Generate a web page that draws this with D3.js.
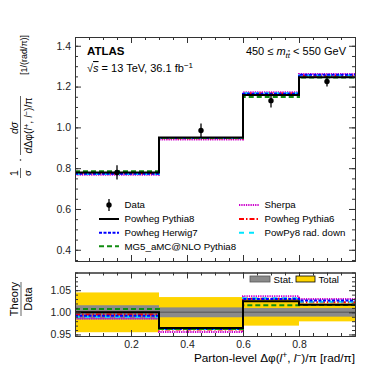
<!DOCTYPE html>
<html>
<head>
<meta charset="utf-8">
<script src="https://cdn.jsdelivr.net/npm/d3@7"></script>
<style>
  body { margin: 0; background: #fff; }
  svg { display: block; font-family: "Liberation Sans", Arial, Helvetica, sans-serif; }
  .axis path, .axis line { stroke: #333; }
  .axis text { font-size: 10.5px; fill: #222; font-family: "Liberation Sans", Arial, sans-serif; }
</style>
</head>
<body>
<svg id="chart" width="374" height="374"></svg>
<script>
// bin edges of parton-level delta phi / pi
var binEdges = [0, 0.3, 0.6, 0.8, 1.0];

// unfolded data, normalised cross-section and uncertainties
var dataValues = [0.779, 0.985, 1.131, 1.225];
var dataTotalErr = [0.035, 0.034, 0.034, 0.025];
var dataStatErr = [0.0125, 0.011, 0.011, 0.012];

// theory predictions
var powhegPythia8 = [0.779, 0.950, 1.159, 1.246];
var powhegHerwig7 = [0.773, 0.948, 1.165, 1.258];
var mg5Pythia8 = [0.785, 0.948, 1.149, 1.245];
var sherpa = [0.768, 0.941, 1.172, 1.262];
var powhegPythia6 = [0.775, 0.947, 1.166, 1.253];
var powPy8RadDown = [0.771, 0.948, 1.167, 1.254];

var yTicks = [0.4, 0.6, 0.8, 1.0, 1.2, 1.4];
var ratioTicks = [0.95, 1.00, 1.05];
var xTicks = [0.2, 0.4, 0.6, 0.8];

var models = [
    { name: "Sherpa", values: sherpa, color: "#cc00cc", dash: "1.3,1", col: 1, row: 0 },
    { name: "Powheg Pythia6", values: powhegPythia6, color: "#ff0000", dash: "5,2,1.5,2", col: 1, row: 1 },
    { name: "PowPy8 rad. down", values: powPy8RadDown, color: "#00e5ff", dash: "5,5", col: 1, row: 2 },
    { name: "Powheg Herwig7", values: powhegHerwig7, color: "#0000ff", dash: "3,1.5", col: 0, row: 2 },
    { name: "MG5_aMC@NLO Pythia8", values: mg5Pythia8, color: "#118c11", dash: "5,3", col: 0, row: 3 },
    { name: "Powheg Pythia8", values: powhegPythia8, color: "#000000", dash: null, col: 0, row: 1 }
];

var svg = d3.select('#chart');

var x = d3.scaleLinear().domain([0, 1]).range([75, 355]);
var y = d3.scaleLinear().domain([0.345, 1.443]).range([261, 37]);
var yr = d3.scaleLinear().domain([0.9465, 1.09]).range([336, 272.5]);

svg.append("defs").append("clipPath").attr("id", "clipRatio")
    .append("rect").attr("x", 75).attr("y", 272.5).attr("width", 280).attr("height", 63.5);

function stepPoints(vals, scaleY) {
    var pts = vals.map(function (v, i) { return [x(binEdges[i]), scaleY(v)]; });
    pts.push([x(binEdges[binEdges.length - 1]), scaleY(vals[vals.length - 1])]);
    return pts;
}
var stepLine = d3.line().curve(d3.curveStepAfter);

// ---------- top panel ----------
var topPanel = svg.append("g").attr("id", "top-panel");

models.forEach(function (m) {
    topPanel.append("path")
        .attr("d", stepLine(stepPoints(m.values, y)))
        .attr("fill", "none")
        .attr("stroke", m.color)
        .attr("stroke-width", 2)
        .attr("stroke-dasharray", m.dash);
});

var pts = topPanel.selectAll(".data-point")
    .data(dataValues)
    .enter().append("g")
    .attr("class", "data-point");
pts.append("line")
    .attr("x1", function (d, i) { return x((binEdges[i] + binEdges[i + 1]) / 2); })
    .attr("x2", function (d, i) { return x((binEdges[i] + binEdges[i + 1]) / 2); })
    .attr("y1", function (d, i) { return y(d + dataTotalErr[i]); })
    .attr("y2", function (d, i) { return y(d - dataTotalErr[i]); })
    .attr("stroke", "#000").attr("stroke-width", 1.3);
pts.append("circle")
    .attr("cx", function (d, i) { return x((binEdges[i] + binEdges[i + 1]) / 2); })
    .attr("cy", function (d) { return y(d); })
    .attr("r", 2.7)
    .attr("fill", "#000");

function minorTicks(lo, hi, step) {
    var out = [];
    for (var v = lo; v <= hi + 1e-9; v += step) out.push(+v.toFixed(4));
    return out;
}

function frame(g, sx, sy, yMajor, yMinor, xMajor, xMinor, x0, x1, yTop, yBot, xLabels, yFmt) {
    g.append("g").attr("class", "axis").attr("transform", "translate(" + x0 + ",0)")
        .call(d3.axisLeft(sy).tickValues(yMinor).tickSize(-3).tickSizeOuter(0).tickFormat(""));
    g.append("g").attr("class", "axis").attr("transform", "translate(" + x0 + ",0)")
        .call(d3.axisLeft(sy).tickValues(yMajor).tickSize(-6).tickSizeOuter(0).tickPadding(4)
            .tickFormat(d3.format(yFmt)));
    g.append("g").attr("class", "axis").attr("transform", "translate(" + x1 + ",0)")
        .call(d3.axisRight(sy).tickValues(yMinor).tickSize(-3).tickSizeOuter(0).tickFormat(""));
    g.append("g").attr("class", "axis").attr("transform", "translate(" + x1 + ",0)")
        .call(d3.axisRight(sy).tickValues(yMajor).tickSize(-6).tickSizeOuter(0).tickFormat(""));
    g.append("g").attr("class", "axis").attr("transform", "translate(0," + yTop + ")")
        .call(d3.axisTop(sx).tickValues(xMinor).tickSize(-3).tickSizeOuter(0).tickFormat(""));
    g.append("g").attr("class", "axis").attr("transform", "translate(0," + yTop + ")")
        .call(d3.axisTop(sx).tickValues(xMajor).tickSize(-6).tickSizeOuter(0).tickFormat(""));
    g.append("g").attr("class", "axis").attr("transform", "translate(0," + yBot + ")")
        .call(d3.axisBottom(sx).tickValues(xMinor).tickSize(-3).tickSizeOuter(0).tickFormat(""));
    g.append("g").attr("class", "axis").attr("transform", "translate(0," + yBot + ")")
        .call(d3.axisBottom(sx).tickValues(xMajor).tickSize(-6).tickSizeOuter(0).tickPadding(5)
            .tickFormat(xLabels ? d3.format(".1f") : ""));
    g.selectAll(".axis .domain").attr("stroke", "#444");
}

frame(topPanel, x, y, yTicks, minorTicks(0.35, 1.44, 0.05), xTicks, minorTicks(0, 1, 0.05), 75, 355, 37, 261, false, ".1f");

// texts
topPanel.append("text").attr("x", 87).attr("y", 55)
    .style("font-size", "11.5px").style("font-weight", "bold").text("ATLAS");
var sq = topPanel.append("text").attr("x", 87).attr("y", 72).style("font-size", "11px");
sq.append("tspan").text("√");
sq.append("tspan").style("font-style", "italic").style("text-decoration", "overline").text("s");
sq.append("tspan").text(" = 13 TeV, 36.1 fb");
sq.append("tspan").attr("dy", -4.5).style("font-size", "8px").text("−1");

var ml = topPanel.append("text").attr("x", 346).attr("y", 55).attr("text-anchor", "end").style("font-size", "11px");
ml.append("tspan").text("450 ≤ ");
ml.append("tspan").style("font-style", "italic").text("m");
ml.append("tspan").attr("dy", 2.5).style("font-size", "8px").style("font-style", "italic").text("t");
ml.append("tspan").style("font-size", "8px").style("font-style", "italic").style("text-decoration", "overline").text("t");
ml.append("tspan").attr("dy", -2.5).text(" < 550 GeV");

// y label top
function rot(g, bx, cy, txt, size, italic) {
    return g.append("text")
        .attr("transform", "translate(" + bx + "," + cy + ") rotate(-90)")
        .attr("text-anchor", "middle")
        .style("font-size", size + "px")
        .style("font-style", italic ? "italic" : "normal")
        .text(txt);
}
var yl = svg.append("g").attr("id", "ylabel");
rot(yl, 17.5, 173, "1", 10.5);
yl.append("line").attr("x1", 20.5).attr("x2", 20.5).attr("y1", 168).attr("y2", 178).attr("stroke", "#222").attr("stroke-width", 0.7);
rot(yl, 30.5, 173, "σ", 9.5);
yl.append("circle").attr("cx", 20.5).attr("cy", 160).attr("r", 0.8).attr("fill", "#222");
rot(yl, 17.5, 128, "dσ", 10.5, true);
yl.append("line").attr("x1", 20.5).attr("x2", 20.5).attr("y1", 155).attr("y2", 96).attr("stroke", "#222").attr("stroke-width", 0.7);
var den = yl.append("text")
    .attr("transform", "translate(31.5,125.5) rotate(-90)")
    .attr("text-anchor", "middle").style("font-size", "10.5px");
den.append("tspan").style("font-style", "italic").text("d");
den.append("tspan").text("Δφ(");
den.append("tspan").style("font-style", "italic").text("l");
den.append("tspan").attr("dy", -3).style("font-size", "7.5px").text("+");
den.append("tspan").attr("dy", 3).text(", ");
den.append("tspan").style("font-style", "italic").text("l");
den.append("tspan").attr("dy", -3).style("font-size", "7.5px").text("−");
den.append("tspan").attr("dy", 3).text(")/π");
rot(yl, 27, 55, "[1/(rad/π)]", 9);

// legend
var leg = svg.append("g").attr("id", "legend").style("font-size", "9.7px");
var rowsY = [205, 219, 232.7, 246.3];
var colX = [99, 239];
var dl = leg.append("g");
dl.append("line").attr("x1", 109).attr("x2", 109).attr("y1", rowsY[0] - 6).attr("y2", rowsY[0] + 6)
    .attr("stroke", "#000").attr("stroke-width", 1.3);
dl.append("circle").attr("cx", 109).attr("cy", rowsY[0]).attr("r", 2.7).attr("fill", "#000");
leg.append("text").attr("x", 124.5).attr("y", rowsY[0] + 3.4).text("Data");
models.forEach(function (m) {
    var ly = rowsY[m.row];
    leg.append("line").attr("x1", colX[m.col]).attr("x2", colX[m.col] + 20)
        .attr("y1", ly).attr("y2", ly)
        .attr("stroke", m.color).attr("stroke-width", 2).attr("stroke-dasharray", m.dash);
    leg.append("text").attr("x", colX[m.col] + 25.5).attr("y", ly + 3.4).text(m.name);
});

// ---------- ratio panel ----------
var rp = svg.append("g").attr("id", "ratio-panel");
var bands = rp.append("g").attr("clip-path", "url(#clipRatio)");
bands.selectAll(".total")
    .data(dataValues)
    .enter().append("rect")
    .attr("class", "total")
    .attr("x", function (d, i) { return x(binEdges[i]); })
    .attr("width", function (d, i) { return x(binEdges[i + 1]) - x(binEdges[i]); })
    .attr("y", function (d, i) { return yr(1 + dataTotalErr[i] / d); })
    .attr("height", function (d, i) { return yr(1 - dataTotalErr[i] / d) - yr(1 + dataTotalErr[i] / d); })
    .attr("fill", "#ffd500");
bands.selectAll(".stat")
    .data(dataValues)
    .enter().append("rect")
    .attr("class", "stat")
    .attr("x", function (d, i) { return x(binEdges[i]); })
    .attr("width", function (d, i) { return x(binEdges[i + 1]) - x(binEdges[i]); })
    .attr("y", function (d, i) { return yr(1 + dataStatErr[i] / d); })
    .attr("height", function (d, i) { return yr(1 - dataStatErr[i] / d) - yr(1 + dataStatErr[i] / d); })
    .attr("fill", "#8a8a8a");
bands.append("line").attr("x1", x(0)).attr("x2", x(1)).attr("y1", yr(1)).attr("y2", yr(1))
    .attr("stroke", "#666").attr("stroke-width", 1.5);

models.forEach(function (m) {
    var ratio = m.values.map(function (v, i) { return v / dataValues[i]; });
    bands.append("path")
        .attr("d", stepLine(stepPoints(ratio, yr)))
        .attr("fill", "none")
        .attr("stroke", m.color)
        .attr("stroke-width", 2)
        .attr("stroke-dasharray", m.dash);
});

frame(rp, x, yr, ratioTicks, minorTicks(0.95, 1.09, 0.01), xTicks, minorTicks(0, 1, 0.05), 75, 355, 272.5, 336, true, ".2f");

// band legend
var bl = rp.append("g").style("font-size", "9.7px");
bl.append("rect").attr("x", 250).attr("y", 276).attr("width", 20).attr("height", 6)
    .attr("fill", "#8a8a8a").attr("stroke", "#555").attr("stroke-width", 0.8);
bl.append("text").attr("x", 273.5).attr("y", 282.5).text("Stat.");
bl.append("rect").attr("x", 296).attr("y", 276).attr("width", 19).attr("height", 6)
    .attr("fill", "#ffd500").attr("stroke", "#000").attr("stroke-width", 0.8);
bl.append("text").attr("x", 318.5).attr("y", 282.5).text("Total");

// ratio y label
var rl = svg.append("g");
rot(rl, 18, 299, "Theory", 11);
rl.append("line").attr("x1", 21).attr("x2", 21).attr("y1", 282).attr("y2", 316).attr("stroke", "#222").attr("stroke-width", 0.7);
rot(rl, 31.5, 299, "Data", 11);

// x title
var xt = svg.append("text").attr("x", 355).attr("y", 361.5).attr("text-anchor", "end").style("font-size", "11.8px");
xt.append("tspan").text("Parton-level Δφ(");
xt.append("tspan").style("font-style", "italic").text("l");
xt.append("tspan").attr("dy", -4).style("font-size", "8.5px").text("+");
xt.append("tspan").attr("dy", 4).text(", ");
xt.append("tspan").style("font-style", "italic").text("l");
xt.append("tspan").attr("dy", -4).style("font-size", "8.5px").text("−");
xt.append("tspan").attr("dy", 4).text(")/π [rad/π]");
</script>
</body>
</html>
